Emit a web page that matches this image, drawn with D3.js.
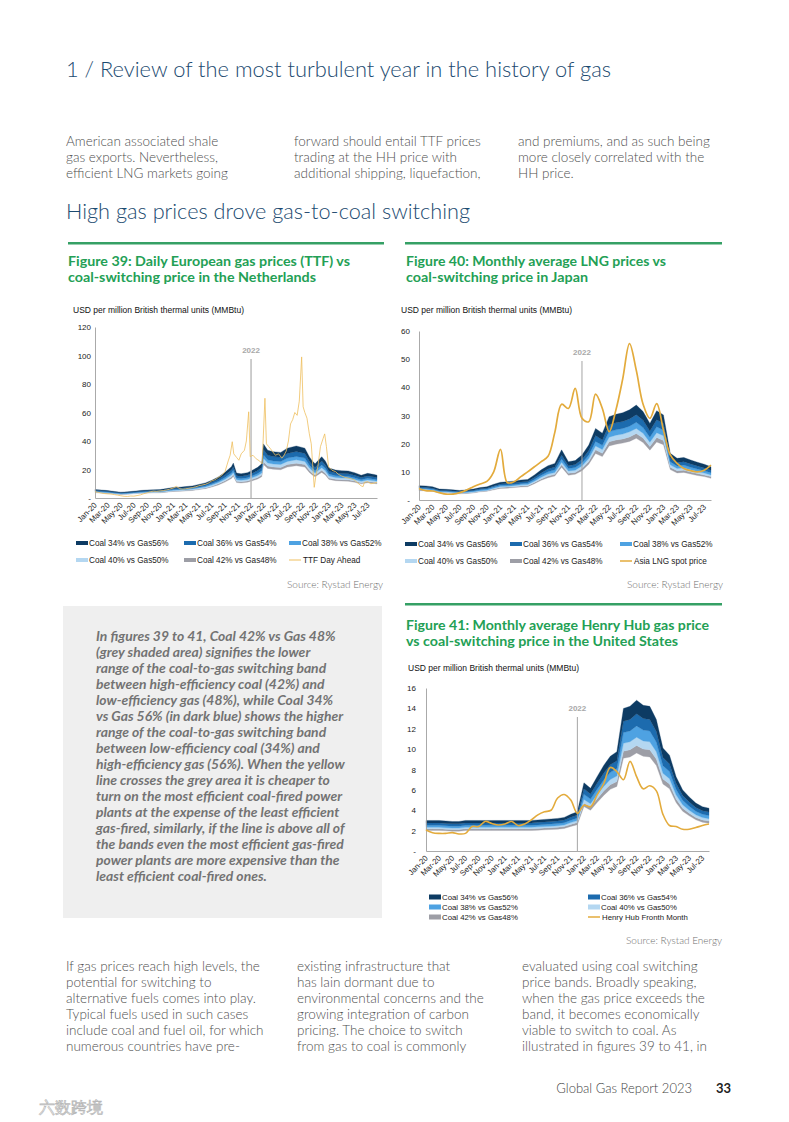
<!DOCTYPE html>
<html>
<head>
<meta charset="utf-8">
<script src="https://cdn.jsdelivr.net/npm/d3@7"></script>
<style>
    body{margin:0;background:#fff;}
    svg text{font-family:Lato,"Open Sans",sans-serif;}
    .chart text{font-family:"Liberation Sans",Arial,sans-serif;}
</style>
</head>
<body>
<svg id="page" width="789" height="1122"></svg>
<script>
/*
 gas vs coal-switching bands, figures 39-41
 */
var months=["Jan-20","Feb-20","Mar-20","Apr-20","May-20","Jun-20","Jul-20","Aug-20","Sep-20","Oct-20","Nov-20","Dec-20",
    "Jan-21","Feb-21","Mar-21","Apr-21","May-21","Jun-21","Jul-21","Aug-21","Sep-21","Oct-21","Nov-21","Dec-21",
    "Jan-22","Feb-22","Mar-22","Apr-22","May-22","Jun-22","Jul-22","Aug-22","Sep-22","Oct-22","Nov-22","Dec-22",
    "Jan-23","Feb-23","Mar-23","Apr-23","May-23","Jun-23","Jul-23","Aug-23"];

var bandNames=["Coal 42% vs Gas48%","Coal 40% vs Gas50%","Coal 38% vs Gas52%","Coal 36% vs Gas54%","Coal 34% vs Gas56%"];

// figure 39 - Netherlands, TTF (daily, read at irregular dates)
var nlBandDates=["2020-01-01","2020-02-01","2020-03-01","2020-04-01","2020-05-01","2020-06-01","2020-07-01","2020-08-01","2020-09-01","2020-10-01","2020-11-01","2020-12-01",
    "2021-01-01","2021-02-01","2021-03-01","2021-04-01","2021-05-01","2021-06-01","2021-07-01","2021-08-01","2021-09-01","2021-10-01","2021-10-10","2021-10-25","2021-11-15","2021-12-15",
    "2022-01-01","2022-02-01","2022-02-20","2022-02-28","2022-03-20","2022-04-15","2022-05-20","2022-06-20","2022-08-01","2022-09-10","2022-10-01","2022-10-15","2022-10-28","2022-11-28","2022-12-15",
    "2023-01-01","2023-02-01","2023-03-01","2023-04-01","2023-05-01","2023-06-01","2023-07-01","2023-08-01","2023-08-14"];
var nlCoal34=[6.0,5.6,5.2,4.6,4.1,4.3,4.8,5.3,5.6,5.8,5.9,6.6, 7.4,7.6,8.0,8.5,9.5,10.6,12.4,14.8,18.0,22.0,24.5,17.5,17.0,17.8, 19.0,21.5,24.0,38.0,33.5,32.5,32.0,35.0,36.5,35.0,29.0,26.0,24.0,29.0,26.0, 21.0,19.6,19.2,19.0,17.8,16.0,17.3,16.5,16.0];
var nlCoal36=[5.36,5.01,4.65,4.11,3.67,3.84,4.29,4.74,5.01,5.19,5.27,5.9, 6.62,6.79,7.15,7.6,8.49,9.48,11.09,13.23,16.09,19.67,21.9,15.65,15.2,15.91, 16.99,19.22,21.46,33.97,29.95,29.06,28.61,31.29,32.63,31.29,25.93,23.24,21.46,25.93,23.24, 18.77,17.52,17.16,16.99,15.91,14.3,15.47,14.75,14.3];
var nlCoal38=[4.8,4.48,4.16,3.68,3.28,3.44,3.84,4.24,4.48,4.64,4.72,5.28, 5.92,6.08,6.4,6.8,7.6,8.48,9.92,11.84,14.4,17.6,19.6,14.0,13.6,14.24, 15.2,17.2,19.2,30.4,26.8,26.0,25.6,28.0,29.2,28.0,23.2,20.8,19.2,23.2,20.8, 16.8,15.68,15.36,15.2,14.24,12.8,13.84,13.2,12.8];
var nlCoal40=[4.4,4.11,3.82,3.38,3.01,3.16,3.52,3.89,4.11,4.26,4.33,4.84, 5.43,5.58,5.87,6.24,6.97,7.78,9.1,10.86,13.21,16.15,17.98,12.85,12.48,13.07, 13.95,15.78,17.62,27.89,24.59,23.86,23.49,25.69,26.79,25.69,21.29,19.08,17.62,21.29,19.08, 15.41,14.39,14.09,13.95,13.07,11.74,12.7,12.11,11.74];
var nlCoal42=[4.02,3.75,3.48,3.08,2.75,2.88,3.22,3.55,3.75,3.89,3.95,4.42, 4.96,5.09,5.36,5.7,6.37,7.1,8.31,9.92,12.06,14.74,16.42,11.73,11.39,11.93, 12.73,14.41,16.08,25.46,22.45,21.78,21.44,23.45,24.46,23.45,19.43,17.42,16.08,19.43,17.42, 14.07,13.13,12.86,12.73,11.93,10.72,11.59,11.06,10.72];
var nlBase=[3.72,3.47,3.22,2.85,2.54,2.67,2.98,3.29,3.47,3.6,3.66,4.09, 4.59,4.71,4.96,5.27,5.89,6.57,7.69,9.18,11.16,13.64,15.19,10.85,10.54,11.04, 11.78,13.33,14.88,23.56,20.77,20.15,19.84,21.7,22.63,21.7,17.98,16.12,14.88,17.98,16.12, 13.02,12.15,11.9,11.78,11.04,9.92,10.73,10.23,9.92];

var nlTtfDates=["2020-01-01","2020-01-16","2020-02-01","2020-02-16","2020-03-01","2020-03-16","2020-04-01","2020-04-16","2020-05-01","2020-05-16","2020-06-01","2020-06-16",
    "2020-07-01","2020-07-16","2020-08-01","2020-08-16","2020-09-01","2020-09-16","2020-10-01","2020-10-16","2020-11-01","2020-11-16","2020-12-01","2020-12-16",
    "2021-01-01","2021-01-16","2021-02-01","2021-02-16","2021-03-01","2021-03-16","2021-04-01","2021-04-16","2021-05-01","2021-05-16","2021-06-01","2021-06-16",
    "2021-07-01","2021-07-16","2021-08-01","2021-08-16","2021-09-01","2021-09-16","2021-09-25","2021-10-05","2021-10-12","2021-10-25","2021-11-05","2021-11-16",
    "2021-12-01","2021-12-10","2021-12-21","2021-12-28","2022-01-10","2022-01-25","2022-02-10","2022-02-22","2022-03-07","2022-03-14","2022-03-25","2022-04-10",
    "2022-04-25","2022-05-10","2022-05-25","2022-06-01","2022-06-15","2022-06-25","2022-07-05","2022-07-15","2022-07-25","2022-08-05","2022-08-15","2022-08-26",
    "2022-09-02","2022-09-10","2022-09-20","2022-10-01","2022-10-10","2022-10-24","2022-11-01","2022-11-10","2022-11-22","2022-12-05","2022-12-12","2022-12-20",
    "2022-12-30","2023-01-15","2023-02-01","2023-02-15","2023-03-01","2023-03-16","2023-04-01","2023-04-16","2023-05-01","2023-05-16","2023-06-01","2023-06-10",
    "2023-06-16","2023-07-01","2023-07-16","2023-08-01","2023-08-14"];
var nlTtf=[4.4,4.0,3.4,3.1,2.9,2.8,2.4,2.0,1.6,1.2,1.1,1.4,
    1.3,1.7,2.2,3.0,3.6,4.4,4.8,4.6,5.0,5.2,5.6,6.2,
    7.0,8.2,6.5,6.2,6.5,6.8,7.3,7.8,8.6,9.1,9.6,10.6,
    12.0,12.8,14.5,15.8,18.5,26.0,30.0,39.5,31.0,28.5,26.5,31.0,
    33.5,40.0,60.5,29.0,30.0,27.5,26.0,24.0,70.0,38.0,36.0,33.0,
    30.0,31.0,28.0,29.0,33.0,40.0,52.0,55.0,60.0,58.0,68.0,99.0,
    64.0,60.0,56.0,45.0,38.0,7.5,16.0,22.0,36.0,42.0,45.0,36.0,
    22.0,19.5,18.5,16.5,15.5,14.5,14.0,13.5,12.5,10.5,8.5,8.0,
    11.0,11.5,10.0,10.5,11.0];

// figure 40 - Japan, monthly
var jpCoal34=[5.1,5.0,4.7,3.9,3.8,3.6,3.4,3.6,3.9,4.4,4.7,5.6,6.3,6.5,6.7,7.1,7.3,8.9,10.7,12.2,13.0,17.8,13.6,14.0,16.0,19.5,25.4,23.7,29.6,30.4,31.0,32.0,33.7,31.4,27.2,31.7,30.2,16.6,14.8,15.1,14.2,13.4,12.7,11.8];
var jpCoal36=[4.6,4.5,4.2,3.5,3.4,3.2,3.1,3.2,3.5,4.0,4.2,5.0,5.7,5.9,6.0,6.4,6.6,8.0,9.6,11.0,11.7,16.0,12.2,12.6,14.4,17.6,22.9,21.3,26.6,27.4,27.9,28.8,30.3,28.3,24.5,28.5,27.2,14.9,13.3,13.6,12.8,12.1,11.4,10.6];
var jpCoal38=[4.2,4.1,3.9,3.2,3.1,3.0,2.8,3.0,3.2,3.6,3.9,4.6,5.2,5.3,5.5,5.8,6.0,7.3,8.8,10.0,10.7,14.6,11.2,11.5,13.1,16.0,20.8,19.4,24.3,24.9,25.4,26.2,27.6,25.7,22.3,26.0,24.8,13.6,12.1,12.4,11.6,11.0,10.4,9.7];
var jpCoal40=[3.9,3.8,3.5,2.9,2.9,2.7,2.6,2.7,2.9,3.3,3.5,4.2,4.8,4.9,5.1,5.4,5.5,6.7,8.1,9.2,9.8,13.4,10.3,10.6,12.1,14.7,19.2,17.9,22.3,23.0,23.4,24.2,25.4,23.7,20.5,23.9,22.8,12.5,11.2,11.4,10.7,10.1,9.6,8.9];
var jpCoal42=[3.6,3.5,3.3,2.7,2.7,2.5,2.4,2.5,2.7,3.1,3.3,3.9,4.4,4.6,4.7,5.0,5.1,6.2,7.5,8.5,9.1,12.5,9.5,9.8,11.2,13.7,17.8,16.6,20.7,21.3,21.7,22.4,23.6,22.0,19.0,22.2,21.1,11.6,10.4,10.6,9.9,9.4,8.9,8.3];
var jpBase=[3.3,3.3,3.1,2.5,2.5,2.3,2.2,2.3,2.5,2.9,3.1,3.6,4.1,4.2,4.4,4.6,4.7,5.8,7.0,7.9,8.5,11.6,8.8,9.1,10.4,12.7,16.5,15.4,19.2,19.8,20.2,20.8,21.9,20.4,17.7,20.6,19.6,10.8,9.6,9.8,9.2,8.7,8.3,7.7];
var jpLng=[4.1,3.3,3.2,2.6,2.1,2.1,2.6,3.5,4.7,5.7,6.6,10.0,18.0,6.2,6.5,8.3,10.0,11.8,13.6,15.5,24.0,34.0,32.5,39.6,29.0,27.8,37.6,32.5,24.3,32.0,43.0,55.5,46.0,34.0,29.0,34.2,24.8,16.0,13.0,11.2,10.4,10.0,10.6,12.4];

// figure 41 - United States, monthly
var usCoal34=[3.0,3.0,3.0,2.95,2.9,2.9,3.0,3.0,3.0,3.0,3.0,3.0,3.0,3.0,3.0,3.0,3.0,3.05,3.1,3.15,3.2,3.3,3.6,3.85,6.7,6.15,7.3,8.4,9.3,9.75,14.0,14.2,14.8,14.3,14.2,12.9,10.1,9.4,7.3,6.0,5.3,4.7,4.35,4.2];
var usCoal36=[2.76,2.76,2.76,2.71,2.67,2.67,2.76,2.76,2.76,2.76,2.76,2.76,2.76,2.76,2.76,2.76,2.76,2.81,2.85,2.9,2.94,3.04,3.31,3.54,6.1,5.6,6.64,7.64,8.46,8.87,12.74,12.92,13.47,13.01,12.92,11.74,9.19,8.55,6.64,5.46,4.82,4.28,3.96,3.82];
var usCoal38=[2.52,2.52,2.52,2.48,2.44,2.44,2.52,2.52,2.52,2.52,2.52,2.52,2.52,2.52,2.52,2.52,2.52,2.56,2.6,2.65,2.69,2.77,3.02,3.23,5.56,5.1,6.06,6.97,7.72,8.09,11.62,11.79,12.28,11.87,11.79,10.71,8.38,7.8,6.06,4.98,4.4,3.9,3.61,3.49];
var usCoal40=[2.33,2.33,2.33,2.29,2.25,2.25,2.33,2.33,2.33,2.33,2.33,2.33,2.33,2.33,2.33,2.33,2.33,2.37,2.41,2.44,2.48,2.56,2.79,2.99,5.06,4.64,5.51,6.34,7.02,7.36,10.57,10.72,11.17,10.8,10.72,9.74,7.63,7.1,5.51,4.53,4.0,3.55,3.28,3.17];
var usCoal42=[2.18,2.18,2.18,2.14,2.11,2.11,2.18,2.18,2.18,2.18,2.18,2.18,2.18,2.18,2.18,2.18,2.18,2.21,2.25,2.29,2.32,2.4,2.61,2.8,4.69,4.31,5.11,5.88,6.51,6.83,9.8,9.94,10.36,10.01,9.94,9.03,7.07,6.58,5.11,4.2,3.71,3.29,3.05,2.94];
var usBase=[2.01,2.01,2.01,1.98,1.94,1.94,2.01,2.01,2.01,2.01,2.01,2.01,2.01,2.01,2.01,2.01,2.01,2.04,2.08,2.11,2.14,2.21,2.41,2.58,4.36,4.0,4.75,5.46,6.05,6.34,9.1,9.23,9.62,9.3,9.23,8.39,6.57,6.11,4.75,3.9,3.45,3.06,2.83,2.73];
var usHenryHub=[2.06,1.8,1.73,1.73,1.8,1.67,1.73,2.4,2.4,2.9,2.7,2.55,2.65,2.9,2.5,2.65,3.05,3.55,3.85,4.0,5.2,5.55,5.0,3.7,4.5,4.35,5.5,6.6,8.2,7.8,7.0,8.8,7.3,6.1,6.4,5.9,3.6,2.5,2.4,2.13,2.13,2.3,2.5,2.65];

var nlTicks=[0,20,40,60,80,100,120];
var jpTicks=[0,10,20,30,40,50,60];
var usTicks=[0,2,4,6,8,10,12,14,16];

var bandColors=["#9d9ea6","#b4d7f1","#4ea2e2","#1c6bae","#0d3b63"];
var unitLabel="USD per million British thermal units (MMBtu)";
var parseDate=d3.timeParse("%Y-%m-%d");
var page=d3.select("#page");

function drawBands(g,x,y,xVals,layers) {
    var area=d3.area()
        .x(function (d) {return x(d.x)})
        .y0(function (d) {return y(d.lo)})
        .y1(function (d) {return y(d.hi)});
    for(var k=0;k<layers.length-1;k++){
        var lo=layers[k],hi=layers[k+1];
        var pts=lo.map(function (v,i) {return {"x":xVals[i],"lo":v,"hi":hi[i]}});
        g.append("path").datum(pts)
            .attr("d",area)
            .attr("fill",bandColors[k])
            .attr("stroke",bandColors[k])
            .attr("stroke-width",0.3);
    }
}

function drawLegend(g,items,fontSize,swH) {
    items.forEach(function (it) {
        if(it.type==="line"){
            g.append("line").attr("x1",it.x).attr("x2",it.x+12).attr("y1",it.y).attr("y2",it.y)
                .attr("stroke",it.color).attr("stroke-width",it.w||1.5);
        }
        else{
            g.append("rect").attr("x",it.x).attr("y",it.y-swH/2).attr("width",12).attr("height",swH)
                .attr("fill",it.color);
        }
        g.append("text").attr("x",it.x+(it.type==="line"?14:13)).attr("y",it.y)
            .attr("dy","0.35em").attr("font-size",fontSize).attr("fill","#1a1a1a").text(it.label);
    });
}

function buildPanel(cfg) {
    var g=page.append("g").attr("class","chart").attr("id",cfg.id);
    var x=cfg.x,y=cfg.y;
    var x0=x.range()[0];

    g.append("text").attr("x",cfg.unitPos[0]).attr("y",cfg.unitPos[1])
        .attr("font-size",8.5).attr("fill","#111").text(unitLabel);

    drawBands(g,x,y,cfg.bandX,cfg.layers);

    //axes
    var yAxis=d3.axisLeft(y).tickValues(cfg.yTicks).tickSize(0).tickSizeOuter(0).tickPadding(cfg.yPad)
        .tickFormat(function (d) {return d===0?"-":d});
    var ya=g.append("g").attr("transform","translate("+x0+",0)").call(yAxis);
    ya.attr("font-size",8);
    ya.select(".domain").attr("stroke","#a0a0a0").attr("stroke-width",0.9);
    ya.selectAll("text").attr("fill","#222");

    var xAxis=d3.axisBottom(x).tickValues(cfg.xTicks).tickSize(0).tickSizeOuter(0);
    if(cfg.xFormat){xAxis.tickFormat(cfg.xFormat)}
    var xa=g.append("g").attr("transform","translate(0,"+y(0)+")").call(xAxis);
    xa.attr("font-size",7.9);
    xa.select(".domain").attr("stroke","#a0a0a0").attr("stroke-width",0.9);
    xa.selectAll("text")
        .attr("fill","#222")
        .attr("x",-4).attr("y",4).attr("dy","0.35em")
        .attr("transform","rotate(-45)")
        .style("text-anchor","end");

    //year marker
    var yx=x(cfg.yearAt);
    g.append("line").attr("x1",yx).attr("x2",yx).attr("y1",cfg.yearTop).attr("y2",y(0))
        .attr("stroke",cfg.yearColor).attr("stroke-width",cfg.yearW);
    g.append("text").attr("x",yx).attr("y",cfg.yearTop-6).attr("text-anchor","middle")
        .attr("font-size",8).attr("font-weight","bold").attr("fill","#a8a8a8").text("2022");

    //price line
    var line=d3.line()
        .x(function (d) {return x(d[0])})
        .y(function (d) {return y(d[1])})
        .curve(cfg.smooth?d3.curveCatmullRom.alpha(0.5):d3.curveLinear);
    g.append("path")
        .datum(cfg.lineX.map(function (v,i) {return [v,cfg.lineY[i]]}))
        .attr("d",line).attr("fill","none")
        .attr("stroke",cfg.lineColor).attr("stroke-width",cfg.lineW)
        .attr("stroke-linejoin","round");

    drawLegend(g,cfg.legend,cfg.legendSize,cfg.swatchH);
}

function addLines(lines,x,y0,lh,size,fill,extra) {
    var g=page.append("g").attr("font-size",size).attr("fill",fill);
    if(extra){for(var k in extra){g.attr(k,extra[k])}}
    lines.forEach(function (t,i) {
        g.append("text").attr("x",x).attr("y",y0+i*lh).text(t);
    });
    return g;
}

function fitted(x,y,w,size,fill,weight,t) {
    page.append("text").attr("x",x).attr("y",y)
        .attr("font-size",size).attr("fill",fill).attr("font-weight",weight)
        .attr("textLength",w).attr("lengthAdjust","spacingAndGlyphs").text(t);
}

function makePage() {
    var blue="#1b4a70",green="#23a055",body="#4f4f4f",light={"font-weight":300};

    fitted(66,77,545,22,blue,300,"1 / Review of the most turbulent year in the history of gas");

    addLines(["American associated shale","gas exports. Nevertheless,","efficient LNG markets going"],66,146,16,13.5,body,light);
    addLines(["forward should entail TTF prices","trading at the HH price with","additional shipping, liquefaction,"],294,146,16,13.5,body,light);
    addLines(["and premiums, and as such being","more closely correlated with the","HH price."],518,146,16,13.5,body,light);

    fitted(66,219,404,21,blue,300,"High gas prices drove gas-to-coal switching");

    page.append("rect").attr("x",68).attr("y",242).attr("width",316).attr("height",2.5).attr("fill","#35a065");
    page.append("rect").attr("x",405).attr("y",242).attr("width",317).attr("height",2.5).attr("fill","#35a065");
    page.append("rect").attr("x",405).attr("y",603).attr("width",317).attr("height",2.5).attr("fill","#35a065");

    fitted(68,266,282,12.5,green,"bold","Figure 39: Daily European gas prices (TTF) vs");
    fitted(68,282,248,12.5,green,"bold","coal-switching price in the Netherlands");
    fitted(406,266,260,12.5,green,"bold","Figure 40: Monthly average LNG prices vs");
    fitted(406,282,182,12.5,green,"bold","coal-switching price in Japan");
    fitted(406,630,303,12.5,green,"bold","Figure 41: Monthly average Henry Hub gas price");
    fitted(406,646,272,12.5,green,"bold","vs coal-switching price in the United States");

    var src=[[383,588],[723,588],[722,944]];
    src.forEach(function (p) {
        page.append("text").attr("x",p[0]).attr("y",p[1]).attr("text-anchor","end")
            .attr("font-size",10).attr("font-weight",300).attr("fill","#6f6f6f").text("Source: Rystad Energy");
    });

    page.append("rect").attr("x",63).attr("y",606).attr("width",319).attr("height",312).attr("fill","#efefef");
    addLines(["In figures 39 to 41, Coal 42% vs Gas 48%",
        "(grey shaded area) signifies the lower",
        "range of the coal-to-gas switching band",
        "between high-efficiency coal (42%) and",
        "low-efficiency gas (48%), while Coal 34%",
        "vs Gas 56% (in dark blue) shows the higher",
        "range of the coal-to-gas switching band",
        "between low-efficiency coal (34%) and",
        "high-efficiency gas (56%). When the yellow",
        "line crosses the grey area it is cheaper to",
        "turn on the most efficient coal-fired power",
        "plants at the expense of the least efficient",
        "gas-fired, similarly, if the line is above all of",
        "the bands even the most efficient gas-fired",
        "power plants are more expensive than the",
        "least efficient coal-fired ones."],96,641,16,13.9,"#737373",{"font-weight":"bold","font-style":"italic"});

    addLines(["If gas prices reach high levels, the","potential for switching to","alternative fuels comes into play.",
        "Typical fuels used in such cases","include coal and fuel oil, for which","numerous countries have pre-"],66,971,16,13.5,body,light);
    addLines(["existing infrastructure that","has lain dormant due to","environmental concerns and the",
        "growing integration of carbon","pricing. The choice to switch","from gas to coal is commonly"],297,971,16,13.5,body,light);
    addLines(["evaluated using coal switching","price bands. Broadly speaking,","when the gas price exceeds the",
        "band, it becomes economically","viable to switch to coal. As","illustrated in figures 39 to 41, in"],522,971,16,13.5,body,light);

    page.append("text").attr("x",692).attr("y",1093).attr("text-anchor","end")
        .attr("font-size",13).attr("font-weight",300).attr("fill","#444").text("Global Gas Report 2023");
    page.append("text").attr("x",716).attr("y",1093)
        .attr("font-size",13).attr("font-weight","bold").attr("fill","#222").text("33");
    page.append("text").attr("x",39).attr("y",1113)
        .attr("font-family","'Noto Sans CJK SC'").attr("font-size",16)
        .attr("fill","#ffffff").attr("stroke","#b8b8b8").attr("stroke-width",0.7).text("六数跨境");
}

function makeCharts() {
    var lineCol="#e3ab3c";

    // figure 39
    var nlX=d3.scaleTime().domain([parseDate("2020-01-01"),parseDate("2023-08-14")]).range([95,377]);
    var nlY=d3.scaleLinear().domain([0,120]).range([498,327]);
    buildPanel({
        "id":"fig39","x":nlX,"y":nlY,"unitPos":[73,313],
        "bandX":nlBandDates.map(parseDate),
        "layers":[nlBase,nlCoal42,nlCoal40,nlCoal38,nlCoal36,nlCoal34],
        "yTicks":nlTicks,"yPad":4,
        "xTicks":d3.timeMonth.range(parseDate("2020-01-01"),parseDate("2023-08-01"),2),
        "xFormat":d3.timeFormat("%b-%y"),
        "yearAt":parseDate("2022-01-01"),"yearTop":359,"yearColor":"#bdbdbd","yearW":1.5,
        "lineX":nlTtfDates.map(parseDate),"lineY":nlTtf,"smooth":false,
        "lineColor":"#efbf5e","lineW":0.8,
        "legendSize":8.2,"swatchH":4,
        "legend":[
            {"label":bandNames[4],"color":bandColors[4],"x":76,"y":543},
            {"label":bandNames[3],"color":bandColors[3],"x":184,"y":543},
            {"label":bandNames[2],"color":bandColors[2],"x":289,"y":543},
            {"label":bandNames[1],"color":bandColors[1],"x":76,"y":560},
            {"label":bandNames[0],"color":bandColors[0],"x":184,"y":560},
            {"label":"TTF Day Ahead","color":"#efbf5e","x":289,"y":560,"type":"line","w":1}
        ]
    });

    // figure 40
    var jpX=d3.scalePoint().domain(months).range([419,711]);
    var jpY=d3.scaleLinear().domain([0,60]).range([500,331]);
    buildPanel({
        "id":"fig40","x":jpX,"y":jpY,"unitPos":[401,313],
        "bandX":months,
        "layers":[jpBase,jpCoal42,jpCoal40,jpCoal38,jpCoal36,jpCoal34],
        "yTicks":jpTicks,"yPad":9,
        "xTicks":months.filter(function (d,i) {return i%2===0}),
        "yearAt":"Jan-22","yearTop":361,"yearColor":"#a5a5a5","yearW":1,
        "lineX":months,"lineY":jpLng,"smooth":true,
        "lineColor":lineCol,"lineW":1.7,
        "legendSize":8.2,"swatchH":4,
        "legend":[
            {"label":bandNames[4],"color":bandColors[4],"x":405,"y":544},
            {"label":bandNames[3],"color":bandColors[3],"x":510,"y":544},
            {"label":bandNames[2],"color":bandColors[2],"x":620,"y":544},
            {"label":bandNames[1],"color":bandColors[1],"x":405,"y":561},
            {"label":bandNames[0],"color":bandColors[0],"x":510,"y":561},
            {"label":"Asia LNG spot price","color":lineCol,"x":620,"y":561,"type":"line"}
        ]
    });

    // figure 41
    var usX=d3.scalePoint().domain(months).range([426,709]);
    var usY=d3.scaleLinear().domain([0,16]).range([851,688]);
    buildPanel({
        "id":"fig41","x":usX,"y":usY,"unitPos":[408,671],
        "bandX":months,
        "layers":[usBase,usCoal42,usCoal40,usCoal38,usCoal36,usCoal34],
        "yTicks":usTicks,"yPad":10,
        "xTicks":months.filter(function (d,i) {return i%2===0}),
        "yearAt":"Dec-21","yearTop":717,"yearColor":"#a5a5a5","yearW":1,
        "lineX":months,"lineY":usHenryHub,"smooth":true,
        "lineColor":lineCol,"lineW":1.6,
        "legendSize":7.8,"swatchH":5,
        "legend":[
            {"label":bandNames[4],"color":bandColors[4],"x":429,"y":897},
            {"label":bandNames[3],"color":bandColors[3],"x":588,"y":897},
            {"label":bandNames[2],"color":bandColors[2],"x":429,"y":907},
            {"label":bandNames[1],"color":bandColors[1],"x":588,"y":907},
            {"label":bandNames[0],"color":bandColors[0],"x":429,"y":917},
            {"label":"Henry Hub Fronth Month","color":lineCol,"x":588,"y":917,"type":"line"}
        ]
    });
}

makePage();
makeCharts();
</script>
</body>
</html>
